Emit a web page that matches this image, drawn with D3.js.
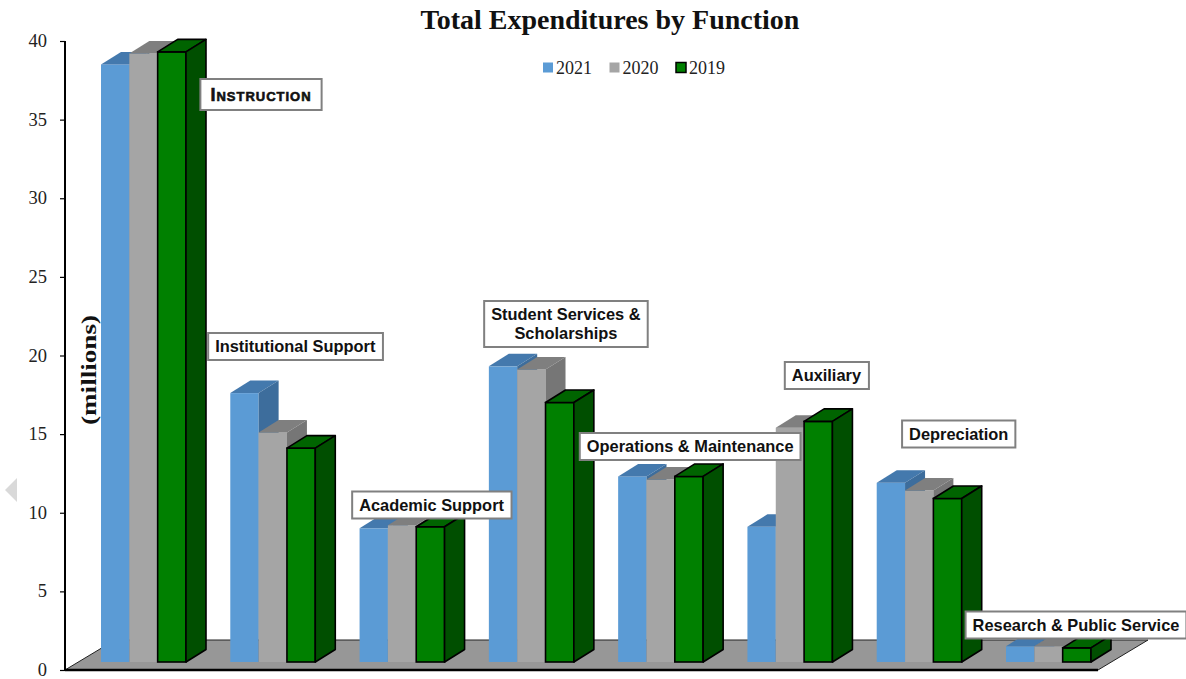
<!DOCTYPE html>
<html>
<head>
<meta charset="utf-8">
<script src="https://cdn.jsdelivr.net/npm/d3@7"></script>
<style>
  body { margin: 0; background: #fff; }
  svg { display: block; }
</style>
</head>
<body>
<div id="chart"></div>
<script>
// chart values (millions)
var categories = ["Instruction", "Institutional Support", "Academic Support",
  "Student Services & Scholarships", "Operations & Maintenance", "Auxiliary",
  "Depreciation", "Research & Public Service"];
var years = ["2021", "2020", "2019"];
var values2021 = [38.0, 17.1, 8.5, 18.8, 11.8, 8.6, 11.4, 1.0];
var values2020 = [38.7, 14.6, 8.7, 18.6, 11.6, 14.9, 10.9, 1.0];
var values2019 = [38.8, 13.6, 8.6, 16.5, 11.8, 15.3, 10.4, 0.9];
var yTicks = [0, 5, 10, 15, 20, 25, 30, 35, 40];

// label box placement: offset of box centre from group start, and centre y
var labelDx = [160, 65, 72, 77, 72, 79, 82, 70];
var labelCy = [94.5, 346.5, 505, 324, 446.5, 375.5, 434, 625];

var width = 1186, height = 679;
var series = [values2021, values2020, values2019];

// face colours: front, top, side
var colors = {
  "2021": ["#5b9bd5", "#4479ad", "#3d6d9c"],
  "2020": ["#a5a5a5", "#7f7f7f", "#767676"],
  "2019": ["#008000", "#006400", "#004f00"]
};

var svg = d3.select("#chart").append("svg")
  .attr("width", width)
  .attr("height", height);

var xScale = d3.scaleBand()
  .domain(categories)
  .range([101, 1091])
  .paddingInner(0.3426)
  .paddingOuter(0);

var xInner = d3.scaleBand()
  .domain(years)
  .range([0, xScale.bandwidth()]);

var yScale = d3.scaleLinear()
  .domain([0, 40])
  .range([670, 41]);

var axisX = 65;
var lift = 8;          // bars stand a little back on the floor
var ddx = 20, ddy = 12.5; // bar depth
var floorDx = 50, floorDy = 30;

// little grey arrow at left edge
svg.append("path")
  .attr("d", "M17,478 L5,490 L17,502 Z")
  .attr("fill", "#d9d9d9");

// floor
var y0 = yScale(0);
var floorEnd = xScale.range()[1] + 7;
svg.append("path")
  .attr("d", "M" + axisX + "," + y0 + " L" + floorEnd + "," + y0 +
    " L" + (floorEnd + floorDx) + "," + (y0 - floorDy) +
    " L" + (axisX + floorDx) + "," + (y0 - floorDy) + " Z")
  .attr("fill", "#979797")
  .attr("stroke", "#222")
  .attr("stroke-width", 1);
svg.append("line")
  .attr("x1", axisX).attr("x2", floorEnd)
  .attr("y1", y0).attr("y2", y0)
  .attr("stroke", "#000").attr("stroke-width", 2.5);

// y axis
var yAxis = svg.append("g")
  .attr("transform", "translate(" + axisX + ",0)")
  .call(d3.axisLeft(yScale).tickValues(yTicks).tickSize(5).tickPadding(13));
yAxis.select(".domain").attr("stroke", "#000").attr("stroke-width", 2)
  .attr("d", "M0," + yScale(40) + "V" + y0);
yAxis.selectAll(".tick line").attr("stroke", "#000").attr("stroke-width", 1.2);
yAxis.selectAll(".tick text")
  .attr("fill", "#222")
  .attr("dy", "0.3em")
  .style("font-family", "'Liberation Serif', 'Times New Roman', serif")
  .style("font-size", "18.5px");

// bars
var bars = [];
categories.forEach(function(c, i) {
  years.forEach(function(yr, j) {
    bars.push({ cat: c, year: yr, value: series[j][i] });
  });
});

var barG = svg.selectAll(".bar")
  .data(bars)
  .enter().append("g")
  .attr("class", "bar");

barG.each(function(d) {
  var g = d3.select(this);
  var x = xScale(d.cat) + xInner(d.year);
  var w = xInner.bandwidth();
  var top = yScale(d.value) - lift;
  var bot = y0 - lift;
  var col = colors[d.year];
  var outlined = d.year === "2019";
  var st = outlined ? "#000" : "none";
  g.append("rect")
    .attr("x", x).attr("y", top)
    .attr("width", w).attr("height", bot - top)
    .attr("fill", col[0]).attr("stroke", st).attr("stroke-width", 1.6);
  g.append("path")
    .attr("d", "M" + x + "," + top + " L" + (x + w) + "," + top +
      " L" + (x + w + ddx) + "," + (top - ddy) + " L" + (x + ddx) + "," + (top - ddy) + " Z")
    .attr("fill", col[1]).attr("stroke", st).attr("stroke-width", 1.6)
    .attr("stroke-linejoin", "round");
  g.append("path")
    .attr("d", "M" + (x + w) + "," + top + " L" + (x + w + ddx) + "," + (top - ddy) +
      " L" + (x + w + ddx) + "," + (bot - ddy) + " L" + (x + w) + "," + bot + " Z")
    .attr("fill", col[2]).attr("stroke", st).attr("stroke-width", 1.6)
    .attr("stroke-linejoin", "round");
});

// category label boxes
var labelFont = "'Liberation Sans', Arial, sans-serif";
categories.forEach(function(c, i) {
  var g = svg.append("g").attr("class", "cat-label");
  var cx = xScale(c) + labelDx[i];
  var cy = labelCy[i];
  var lines = c === "Student Services & Scholarships" ? ["Student Services &", "Scholarships"] : [c];
  var isFirst = i === 0;
  var lh = 19;
  var rect = g.append("rect")
    .attr("fill", "#fff")
    .attr("stroke", "#808080")
    .attr("stroke-width", 2);
  var txt = g.append("text")
    .attr("text-anchor", "middle")
    .attr("fill", "#111")
    .style("font-family", labelFont)
    .style("font-weight", "bold")
    .style("font-size", isFirst ? "18px" : "16.4px");
  if (isFirst) {
    txt.style("font-variant", "small-caps")
      .style("letter-spacing", "1px")
      .attr("stroke", "#111").attr("stroke-width", 0.6);
  }
  lines.forEach(function(l, k) {
    txt.append("tspan")
      .attr("x", cx)
      .attr("y", cy + (k - (lines.length - 1) / 2) * lh)
      .attr("dy", "0.36em")
      .text(l);
  });
  var bb = txt.node().getBBox();
  var padX = isFirst ? 10 : 7;
  var boxH = isFirst ? 31 : (lines.length > 1 ? 46 : 27);
  rect.attr("x", bb.x - padX).attr("width", bb.width + 2 * padX)
    .attr("y", cy - boxH / 2).attr("height", boxH);
});

// y axis title
svg.append("text")
  .attr("transform", "translate(96,370) rotate(-90)")
  .attr("text-anchor", "middle")
  .attr("fill", "#111")
  .attr("textLength", 110)
  .attr("lengthAdjust", "spacingAndGlyphs")
  .style("font-family", "'Liberation Serif', 'Times New Roman', serif")
  .style("font-weight", "bold")
  .style("font-size", "22px")
  .text("(millions)");

// title
svg.append("text")
  .attr("x", 610).attr("y", 29)
  .attr("text-anchor", "middle")
  .attr("fill", "#111")
  .style("font-family", "'Liberation Serif', 'Times New Roman', serif")
  .style("font-weight", "bold")
  .style("font-size", "28px")
  .text("Total Expenditures by Function");

// legend
var legend = svg.append("g").attr("transform", "translate(543,0)");
var legItem = legend.selectAll(".leg")
  .data(years)
  .enter().append("g")
  .attr("class", "leg")
  .attr("transform", function(d, i) { return "translate(" + (i * 66.5) + ",0)"; });
legItem.append("rect")
  .attr("x", 0).attr("y", 62.5)
  .attr("width", 10).attr("height", 10)
  .attr("fill", function(d) { return colors[d][0]; })
  .attr("stroke", function(d) { return d === "2019" ? "#000" : "none"; })
  .attr("stroke-width", 1.5);
legItem.append("text")
  .attr("x", 13).attr("y", 74)
  .attr("fill", "#222")
  .style("font-family", "'Liberation Serif', 'Times New Roman', serif")
  .style("font-size", "18px")
  .text(function(d) { return d; });
</script>
</body>
</html>
